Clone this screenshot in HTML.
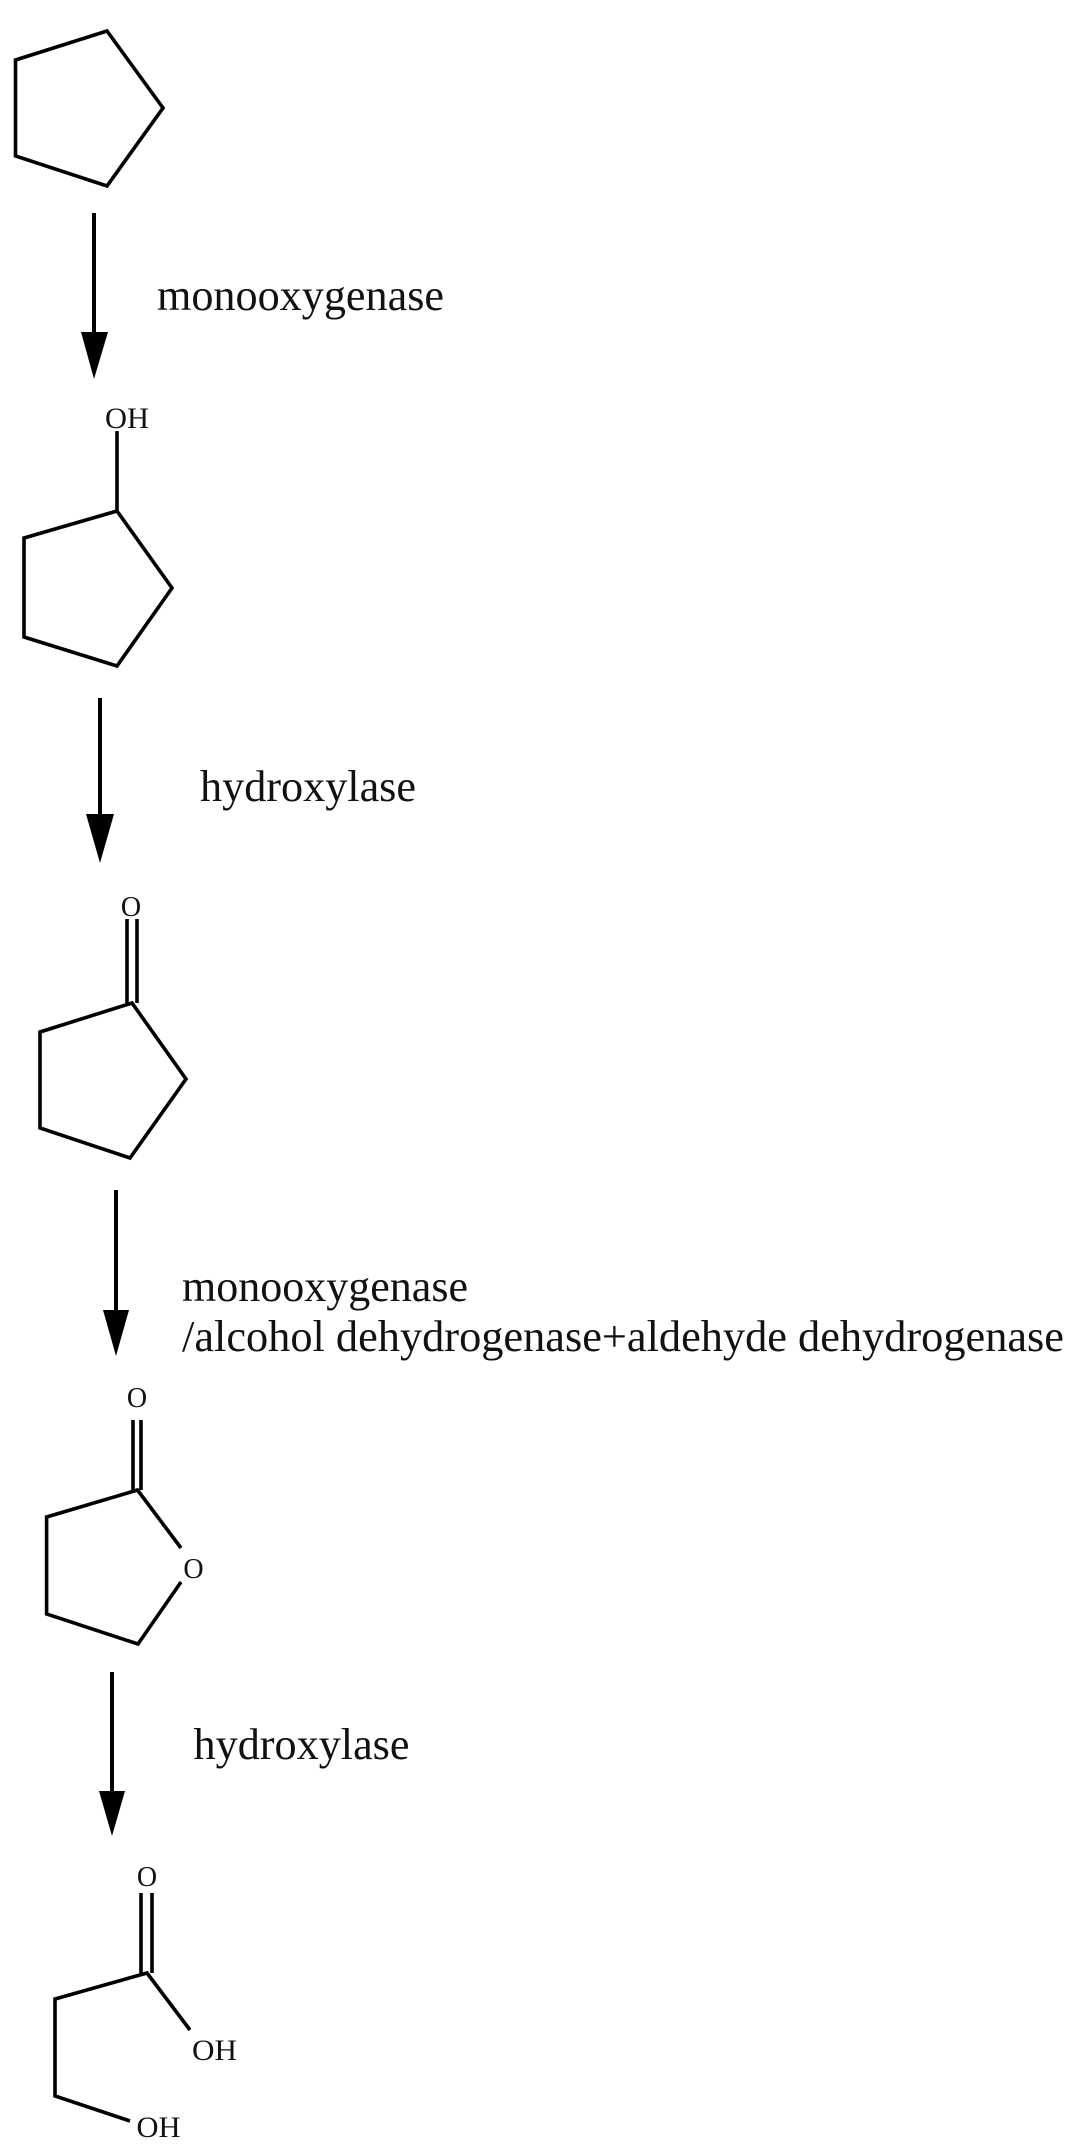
<!DOCTYPE html>
<html><head><meta charset="utf-8"><style>
html,body{margin:0;padding:0;background:#fff;}
svg{display:block;}
text{font-family:"Liberation Serif",serif;fill:#111;}
</style></head><body>
<svg width="1084" height="2152" viewBox="0 0 1084 2152" xmlns="http://www.w3.org/2000/svg">
<g fill="none" stroke="#000" stroke-width="3.6" stroke-linejoin="miter">
<!-- cyclopentane -->
<polygon points="15.5,60 107,31 163,108 107,186 15.5,156"/>
<!-- cyclopentanol -->
<line x1="117" y1="431" x2="117" y2="511"/>
<polygon points="117,511 172,588 117,666 24,637 24,538"/>
<!-- cyclopentanone -->
<line x1="127" y1="919" x2="127" y2="1003"/>
<line x1="137" y1="919" x2="137" y2="1003"/>
<polygon points="132,1003 186,1079 130,1158 40,1128 40,1032"/>
<!-- lactone -->
<line x1="133" y1="1420" x2="133" y2="1490"/>
<line x1="141" y1="1420" x2="141" y2="1490"/>
<polyline points="181,1548 137.5,1490 46.6,1517 46.6,1614 138,1644 181,1582"/>
<!-- 3-hydroxypropanoic acid -->
<line x1="141" y1="1893" x2="141" y2="1973"/>
<line x1="152" y1="1893" x2="152" y2="1973"/>
<polyline points="190,2030 147,1973 55,1999 55,2096 130,2121"/>
</g>
<!-- arrows -->
<g stroke="#000" stroke-width="4">
<line x1="94" y1="213" x2="94" y2="340"/>
<line x1="100" y1="698" x2="100" y2="820"/>
<line x1="116" y1="1190" x2="116" y2="1316"/>
<line x1="112" y1="1672" x2="112" y2="1797"/>
</g>
<g fill="#000">
<polygon points="81,332 108,332 94,379"/>
<polygon points="86,814 114,814 100,863"/>
<polygon points="103,1310 129,1310 116,1356"/>
<polygon points="99,1791 125,1791 112,1836"/>
</g>
<!-- labels -->
<text x="157" y="310" font-size="44" textLength="287" lengthAdjust="spacingAndGlyphs">monooxygenase</text>
<text x="200" y="801" font-size="44" textLength="216" lengthAdjust="spacingAndGlyphs">hydroxylase</text>
<text x="182" y="1301" font-size="44" textLength="286" lengthAdjust="spacingAndGlyphs">monooxygenase</text>
<text x="182" y="1351" font-size="44" textLength="882" lengthAdjust="spacingAndGlyphs">/alcohol dehydrogenase+aldehyde dehydrogenase</text>
<text x="193.5" y="1759" font-size="44" textLength="216" lengthAdjust="spacingAndGlyphs">hydroxylase</text>
<!-- atom labels -->
<text x="105" y="428" font-size="30" textLength="44" lengthAdjust="spacingAndGlyphs">OH</text>
<text x="131" y="916" font-size="28" text-anchor="middle">O</text>
<text x="137" y="1407" font-size="28" text-anchor="middle">O</text>
<text x="193.5" y="1578" font-size="28" text-anchor="middle">O</text>
<text x="147" y="1886" font-size="28" text-anchor="middle">O</text>
<text x="192" y="2060" font-size="30" textLength="45" lengthAdjust="spacingAndGlyphs">OH</text>
<text x="136.5" y="2137" font-size="30" textLength="44" lengthAdjust="spacingAndGlyphs">OH</text>
</svg>
</body></html>
